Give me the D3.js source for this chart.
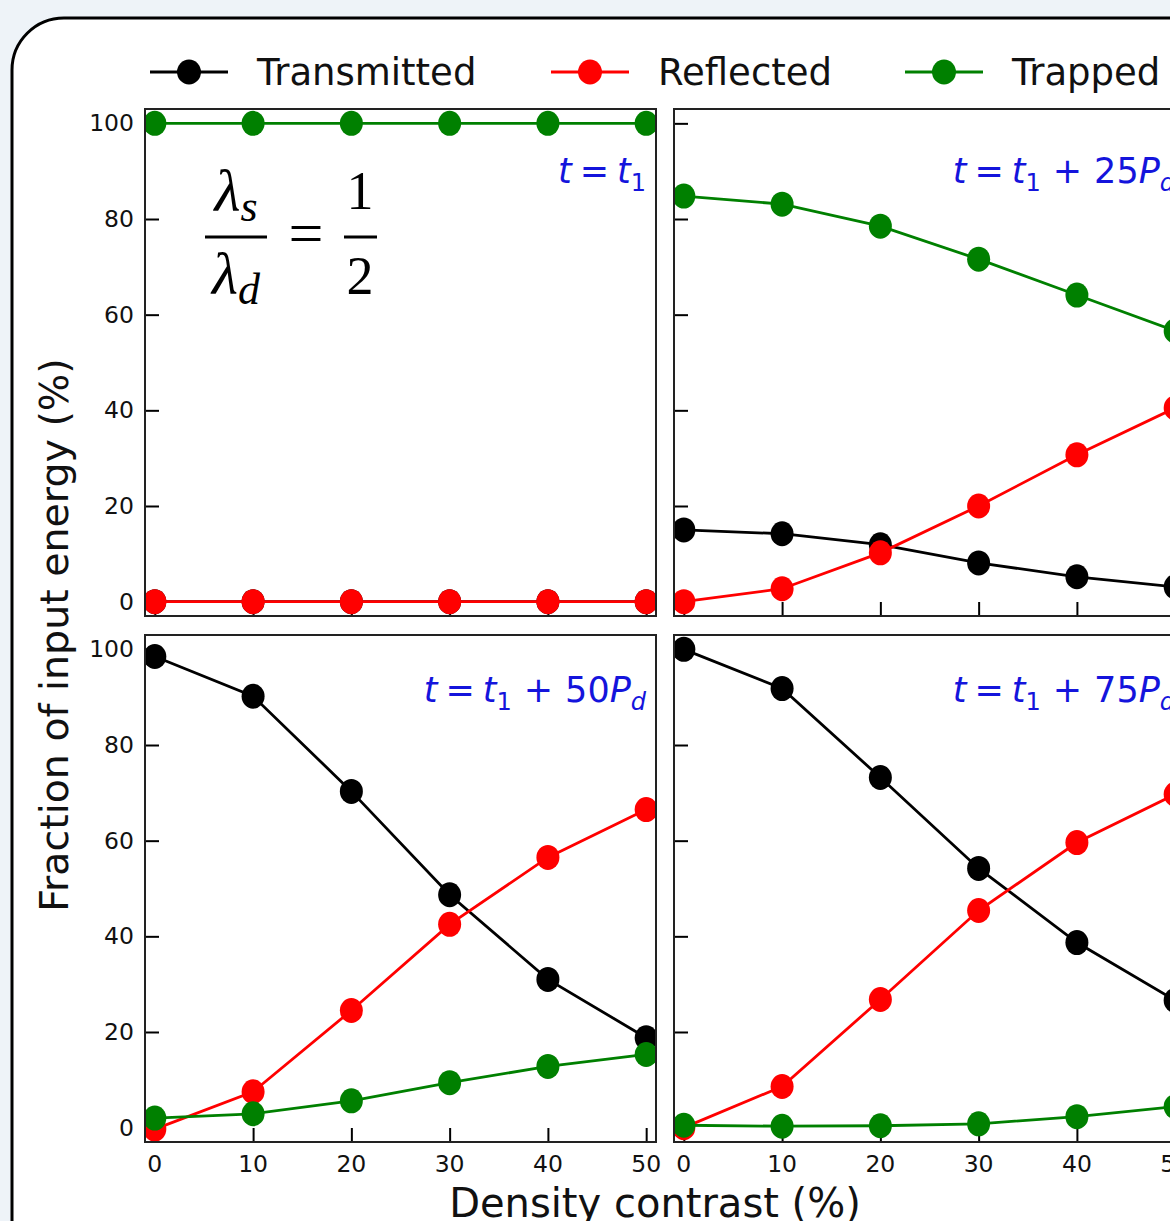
<!DOCTYPE html>
<html>
<head>
<meta charset="utf-8">
<script src="https://cdn.jsdelivr.net/npm/d3@7"></script>
<style>
  html, body { margin: 0; padding: 0; background: #eef3f8; }
  svg { display: block; }
</style>
</head>
<body>
<svg id="chart"></svg>
<script>
// density contrast (%)
const contrast = [0, 10, 20, 30, 40, 50];
const yTicks = [0, 20, 40, 60, 80, 100];

// t = t1
const transmitted_t1 = [0, 0, 0, 0, 0, 0];
const reflected_t1 = [0, 0, 0, 0, 0, 0];
const trapped_t1 = [100, 100, 100, 100, 100, 100];
// t = t1 + 25Pd
const transmitted_25 = [15.0, 14.2, 11.9, 8.1, 5.2, 3.1];
const reflected_25 = [0, 2.7, 10.2, 20.0, 30.7, 40.5];
const trapped_25 = [84.8, 83.1, 78.5, 71.6, 64.1, 56.6];
// t = t1 + 50Pd
const transmitted_50 = [98.5, 90.2, 70.3, 48.7, 31.0, 18.8];
const reflected_50 = [-0.3, 7.5, 24.5, 42.5, 56.5, 66.5];
const trapped_50 = [2.0, 2.9, 5.6, 9.4, 12.8, 15.3];
// t = t1 + 75Pd
const transmitted_75 = [100, 91.8, 73.2, 54.2, 38.7, 26.6];
const reflected_75 = [0, 8.6, 26.8, 45.4, 59.6, 69.7];
const trapped_75 = [0.5, 0.3, 0.4, 0.8, 2.3, 4.4];

const seriesNames = ['Transmitted', 'Reflected', 'Trapped'];
const seriesColors = ['#000000', '#ff0000', '#008000'];
const panelLabels = ['', '25', '50', '75'];

const panels = [
  { data: [transmitted_t1, reflected_t1, trapped_t1], col: 0, row: 0 },
  { data: [transmitted_25, reflected_25, trapped_25], col: 1, row: 0 },
  { data: [transmitted_50, reflected_50, trapped_50], col: 0, row: 1 },
  { data: [transmitted_75, reflected_75, trapped_75], col: 1, row: 1 }
];

const W = 1170, H = 1221;
const colX = [145, 674], panelW = 511;
const rowY = [109, 635], panelH = 507;
const font = 'DejaVu Sans, sans-serif';

const svg = d3.select('#chart').attr('width', W).attr('height', H);

svg.append('rect').attr('width', W).attr('height', H).attr('fill', '#eef3f8');
svg.append('rect')
  .attr('x', 12).attr('y', 18)
  .attr('width', 1220).attr('height', 1260)
  .attr('rx', 52).attr('ry', 52)
  .attr('fill', '#ffffff')
  .attr('stroke', '#000').attr('stroke-width', 3);

const defs = svg.append('defs');

panels.forEach((p, i) => {
  const x0 = colX[p.col], y0 = rowY[p.row];
  const x = d3.scaleLinear().domain([-1, 51]).range([x0, x0 + panelW]);
  const y = d3.scaleLinear().domain([-3, 103]).range([y0 + panelH, y0]);

  const g = svg.append('g');

  defs.append('clipPath').attr('id', 'clip' + i)
    .append('rect')
    .attr('x', x0).attr('y', y0).attr('width', panelW).attr('height', panelH);

  // inward ticks
  const xAxis = d3.axisTop(x).tickValues(contrast).tickSize(14).tickFormat('');
  g.append('g').attr('transform', `translate(0,${y0 + panelH})`).call(xAxis)
    .call(a => a.select('.domain').remove())
    .selectAll('line').attr('stroke', '#000').attr('stroke-width', 2);

  const yAxis = d3.axisRight(y).tickValues(yTicks).tickSize(14).tickFormat('');
  g.append('g').attr('transform', `translate(${x0},0)`).call(yAxis)
    .call(a => a.select('.domain').remove())
    .selectAll('line').attr('stroke', '#000').attr('stroke-width', 2);

  // tick labels
  if (p.col === 0) {
    g.selectAll('.ylab').data(yTicks).join('text')
      .attr('x', x0 - 11).attr('y', d => y(d) + 8)
      .attr('text-anchor', 'end')
      .attr('font-family', font).attr('font-size', 23.5)
      .attr('fill', '#111')
      .text(d => d);
  }
  if (p.row === 1) {
    g.selectAll('.xlab').data(contrast).join('text')
      .attr('x', d => x(d)).attr('y', y0 + panelH + 30)
      .attr('text-anchor', 'middle')
      .attr('font-family', font).attr('font-size', 23.5)
      .attr('fill', '#111')
      .text(d => d);
  }

  const plot = g.append('g').attr('clip-path', `url(#clip${i})`);
  const line = d3.line().x((d, k) => x(contrast[k])).y(d => y(d));

  p.data.forEach((vals, s) => {
    plot.append('path').datum(vals)
      .attr('d', line)
      .attr('fill', 'none')
      .attr('stroke', seriesColors[s])
      .attr('stroke-width', 2.8);
    plot.selectAll(null).data(vals).join('ellipse')
      .attr('cx', (d, k) => x(contrast[k]))
      .attr('cy', d => y(d))
      .attr('rx', 11.5).attr('ry', 12.5)
      .attr('fill', seriesColors[s]);
  });

  // frame
  g.append('rect')
    .attr('x', x0).attr('y', y0).attr('width', panelW).attr('height', panelH)
    .attr('fill', 'none').attr('stroke', '#222').attr('stroke-width', 2);

  // time annotation
  const ann = g.append('text')
    .attr('x', x0 + panelW - 10)
    .attr('y', y0 + (p.row === 0 ? 74 : 67))
    .attr('text-anchor', 'end')
    .attr('font-family', font).attr('font-size', 35)
    .attr('fill', '#1414dc');
  ann.append('tspan').attr('font-style', 'italic').text('t');
  ann.append('tspan').attr('dx', 8).text('=');
  ann.append('tspan').attr('dx', 8).attr('font-style', 'italic').text('t');
  ann.append('tspan').attr('font-size', 24).attr('dy', 8).text('1');
  if (panelLabels[i]) {
    ann.append('tspan').attr('dx', 12).attr('dy', -8).text('+');
    ann.append('tspan').attr('dx', 12).text(panelLabels[i]);
    ann.append('tspan').attr('font-style', 'italic').text('P');
    ann.append('tspan').attr('font-style', 'italic').attr('font-size', 24).attr('dy', 8).text('d');
  }
});

// lambda ratio
const serif = 'Liberation Serif, DejaVu Serif, serif';
const num = svg.append('text').attr('x', 236).attr('y', 211)
  .attr('text-anchor', 'middle').attr('font-family', serif).attr('font-size', 60)
  .attr('font-style', 'italic');
num.append('tspan').text('λ');
num.append('tspan').attr('font-size', 44).attr('dy', 10).text('s');
const den = svg.append('text').attr('x', 236).attr('y', 294)
  .attr('text-anchor', 'middle').attr('font-family', serif).attr('font-size', 60)
  .attr('font-style', 'italic');
den.append('tspan').text('λ');
den.append('tspan').attr('font-size', 44).attr('dy', 10).text('d');
svg.append('line').attr('x1', 205).attr('x2', 267).attr('y1', 237).attr('y2', 237)
  .attr('stroke', '#000').attr('stroke-width', 3);
svg.append('text').attr('x', 306).attr('y', 254).attr('text-anchor', 'middle')
  .attr('font-family', serif).attr('font-size', 62).text('=');
svg.append('text').attr('x', 360).attr('y', 209).attr('text-anchor', 'middle')
  .attr('font-family', serif).attr('font-size', 54).text('1');
svg.append('line').attr('x1', 344).attr('x2', 377).attr('y1', 237).attr('y2', 237)
  .attr('stroke', '#000').attr('stroke-width', 3);
svg.append('text').attr('x', 360).attr('y', 294).attr('text-anchor', 'middle')
  .attr('font-family', serif).attr('font-size', 54).text('2');

// legend
const legX = [150, 551, 905];
seriesNames.forEach((name, s) => {
  const lg = svg.append('g').attr('transform', `translate(${legX[s]},72)`);
  lg.append('line').attr('x1', 0).attr('x2', 78).attr('y1', 0).attr('y2', 0)
    .attr('stroke', seriesColors[s]).attr('stroke-width', 2.8);
  lg.append('ellipse').attr('cx', 39).attr('cy', 0).attr('rx', 12).attr('ry', 12.5)
    .attr('fill', seriesColors[s]);
  lg.append('text').attr('x', 107).attr('y', 13)
    .attr('font-family', font).attr('font-size', 37).attr('fill', '#111')
    .text(name);
});

// axis titles
svg.append('text')
  .attr('transform', 'translate(68,635) rotate(-90)')
  .attr('text-anchor', 'middle')
  .attr('font-family', font).attr('font-size', 39.5).attr('fill', '#111')
  .text('Fraction of input energy (%)');
svg.append('text')
  .attr('x', 655).attr('y', 1217)
  .attr('text-anchor', 'middle')
  .attr('font-family', font).attr('font-size', 40).attr('fill', '#111')
  .text('Density contrast (%)');
</script>
</body>
</html>
